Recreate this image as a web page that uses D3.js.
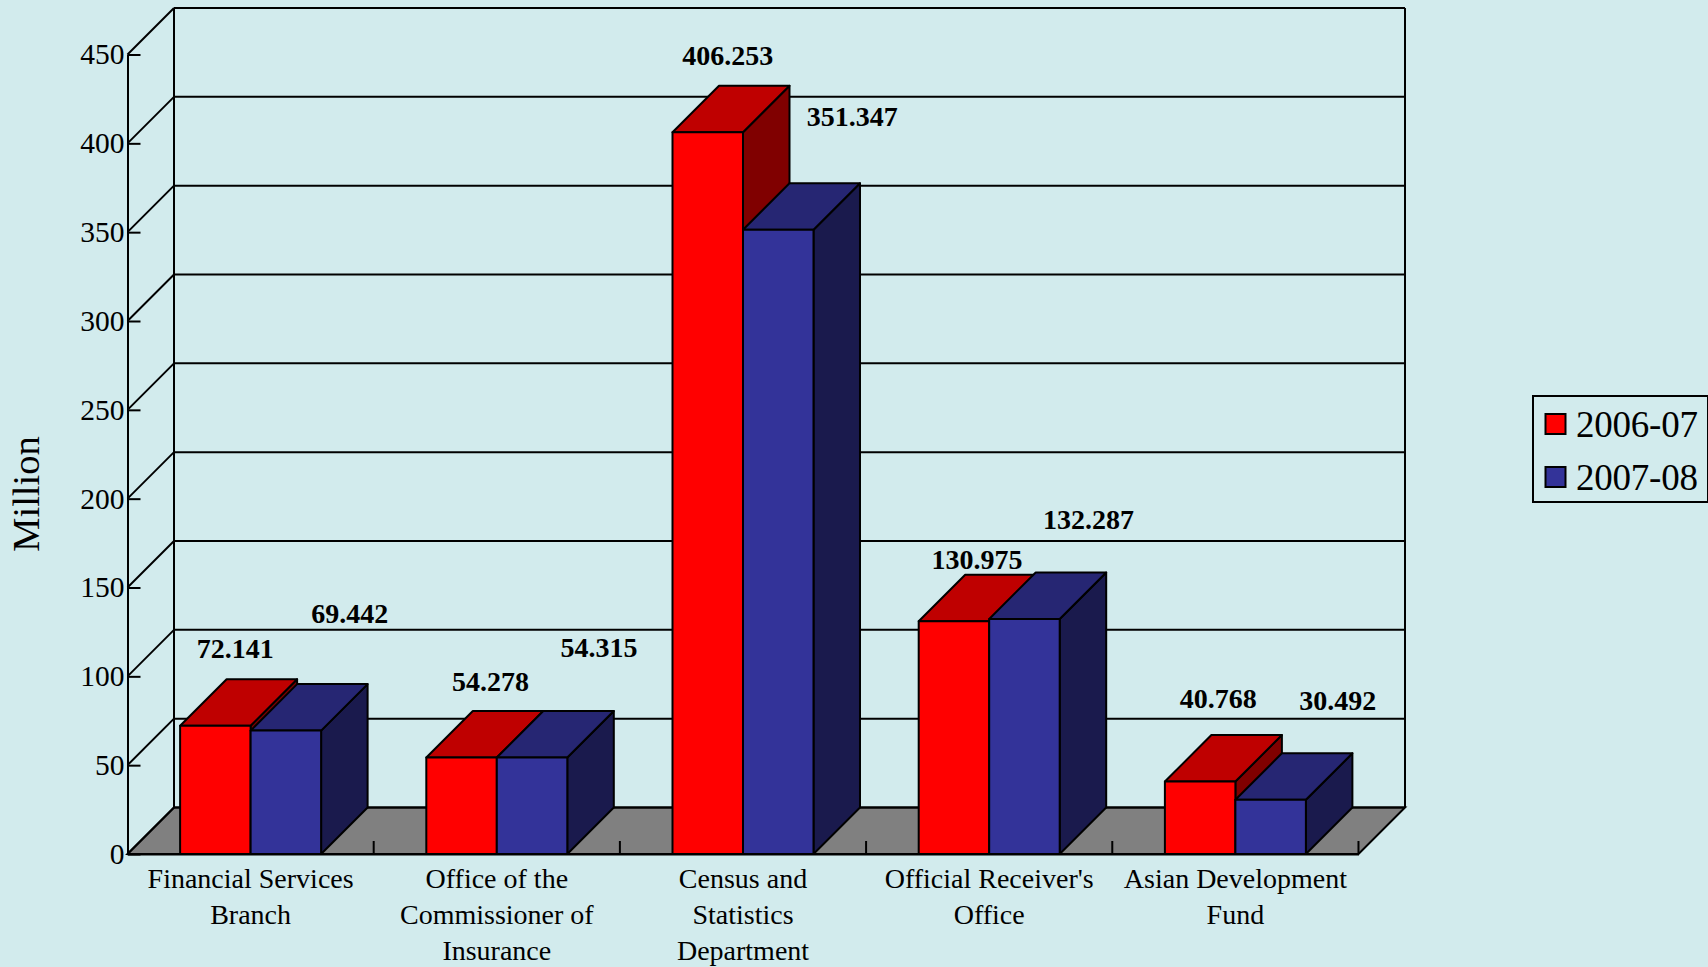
<!DOCTYPE html>
<html>
<head>
<meta charset="utf-8">
<script src="https://cdn.jsdelivr.net/npm/d3@7"></script>
<style>
  html, body { margin: 0; padding: 0; background: #d2ebed; overflow: hidden; }
  svg { display: block; font-family: "Liberation Serif", serif; }
  text { fill: #000; }
</style>
</head>
<body>
<div id="chart"></div>
<script>
var categories = [
  ["Financial Services", "Branch"],
  ["Office of the", "Commissioner of", "Insurance"],
  ["Census and", "Statistics", "Department"],
  ["Official Receiver's", "Office"],
  ["Asian Development", "Fund"]
];
var seriesNames = ["2006-07", "2007-08"];
var values2006 = [72.141, 54.278, 406.253, 130.975, 40.768];
var values2007 = [69.442, 54.315, 351.347, 132.287, 30.492];
var yTicks = [0, 50, 100, 150, 200, 250, 300, 350, 400, 450];

var width = 1708, height = 967;
var left = 127.5, right = 1358.5, bottom = 854, top_ = 54.5;
var depth = 46.5; // 3d offset of the back wall
var lineW = 2;

var front = ["#ff0000", "#333399"];
var topFace = ["#bf0000", "#262673"];
var sideFace = ["#800000", "#1a1a4d"];

// the data labels were placed by hand in the original, so each one has its own nudge
var labelNudge = [
  [[20, 68], [29, 66.5], [20, 67], [23, 52.5], [18, 74]],
  [[64, 108], [67, 101], [74, 104], [64, 90], [67, 90]]
];

var catIdx = d3.range(categories.length);

var yScale = d3.scaleLinear().domain([0, 450]).range([bottom, top_]);
var xScale = d3.scaleBand().domain(catIdx).range([left, right]).paddingInner(0.4273).paddingOuter(0.2137);
var xInner = d3.scaleBand().domain([0, 1]).range([0, xScale.bandwidth()]);

var svg = d3.select("#chart").append("svg")
  .attr("width", width)
  .attr("height", height);

svg.append("rect").attr("width", width).attr("height", height).attr("fill", "#d2ebed");

function pts(list) {
  return list.map(function(p) { return p.join(","); }).join(" ");
}

// floor
svg.append("polygon")
  .attr("points", pts([[left, bottom], [left + depth, bottom - depth], [right + depth, bottom - depth], [right, bottom]]))
  .attr("fill", "#808080")
  .attr("stroke", "#000")
  .attr("stroke-width", lineW);

// back wall grid, and the diagonals down to the front axis
var grid = svg.append("g").attr("stroke", "#000").attr("stroke-width", lineW).attr("fill", "none");
grid.selectAll(".back")
  .data(yTicks)
  .join("line")
  .attr("class", "back")
  .attr("x1", left + depth)
  .attr("x2", right + depth)
  .attr("y1", function(d) { return yScale(d) - depth; })
  .attr("y2", function(d) { return yScale(d) - depth; });
grid.selectAll(".diag")
  .data(yTicks)
  .join("line")
  .attr("class", "diag")
  .attr("x1", left)
  .attr("x2", left + depth)
  .attr("y1", function(d) { return yScale(d); })
  .attr("y2", function(d) { return yScale(d) - depth; });
grid.append("line")
  .attr("x1", left + depth).attr("x2", left + depth)
  .attr("y1", yScale(450) - depth).attr("y2", bottom - depth);
grid.append("line")
  .attr("x1", right + depth).attr("x2", right + depth)
  .attr("y1", yScale(450) - depth).attr("y2", bottom - depth);

// y axis
var yAxis = svg.append("g")
  .attr("transform", "translate(" + left + ",0)")
  .call(d3.axisLeft(yScale).tickValues(yTicks).tickSizeInner(-13).tickSizeOuter(0).tickPadding(3));
yAxis.selectAll("path, line").attr("stroke", "#000").attr("stroke-width", lineW);
yAxis.selectAll("text")
  .attr("font-family", "'Liberation Serif', serif")
  .attr("font-size", 29.5)
  .attr("dy", "0.32em");

// x axis, labels go under the band centres
var xAxis = svg.append("g")
  .attr("transform", "translate(0," + bottom + ")")
  .call(d3.axisBottom(xScale).tickSize(0).tickFormat(""));
xAxis.select("path").attr("stroke", "#000").attr("stroke-width", lineW);

xAxis.selectAll(".tick text")
  .attr("font-family", "'Liberation Serif', serif")
  .attr("font-size", 28)
  .attr("y", 34)
  .attr("dy", 0)
  .each(function(d) {
    var t = d3.select(this);
    t.text(null);
    categories[d].forEach(function(line, i) {
      t.append("tspan").attr("x", 0).attr("y", 34 + i * 36).text(line);
    });
  });

// small ticks between categories
svg.append("g").selectAll("line")
  .data(d3.range(1, categories.length + 1))
  .join("line")
  .attr("x1", function(d) { return left + d * xScale.step(); })
  .attr("x2", function(d) { return left + d * xScale.step(); })
  .attr("y1", bottom)
  .attr("y2", bottom - 13)
  .attr("stroke", "#000")
  .attr("stroke-width", lineW);

// bars
var allValues = [values2006, values2007];
catIdx.forEach(function(c) {
  allValues.forEach(function(vals, s) {
    var x0 = xScale(c) + xInner(s);
    var x1 = x0 + xInner.bandwidth();
    var yT = yScale(vals[c]);
    var g = svg.append("g").attr("stroke", "#000").attr("stroke-width", lineW).attr("stroke-linejoin", "round");
    g.append("polygon")
      .attr("points", pts([[x1, yT], [x1 + depth, yT - depth], [x1 + depth, bottom - depth], [x1, bottom]]))
      .attr("fill", sideFace[s]);
    g.append("polygon")
      .attr("points", pts([[x0, yT], [x0 + depth, yT - depth], [x1 + depth, yT - depth], [x1, yT]]))
      .attr("fill", topFace[s]);
    g.append("rect")
      .attr("x", x0).attr("y", yT)
      .attr("width", x1 - x0).attr("height", bottom - yT)
      .attr("fill", front[s]);
  });
});

// data labels
allValues.forEach(function(vals, s) {
  svg.append("g").selectAll("text")
    .data(vals)
    .join("text")
    .attr("x", function(d, i) { return xScale(i) + xInner(s) + xInner.bandwidth() / 2 + labelNudge[s][i][0]; })
    .attr("y", function(d, i) { return yScale(d) - labelNudge[s][i][1]; })
    .attr("text-anchor", "middle")
    .attr("font-size", 28)
    .attr("font-weight", "bold")
    .text(function(d) { return d3.format(".3f")(d); });
});

// y title
svg.append("text")
  .attr("transform", "translate(39,494) rotate(-90)")
  .attr("text-anchor", "middle")
  .attr("font-size", 38.5)
  .text("Million");

// legend
var legend = svg.append("g");
legend.append("rect")
  .attr("x", 1533).attr("y", 396)
  .attr("width", 175).attr("height", 106)
  .attr("fill", "none")
  .attr("stroke", "#000")
  .attr("stroke-width", lineW);
seriesNames.forEach(function(name, i) {
  legend.append("rect")
    .attr("x", 1545.5).attr("y", 414 + i * 53)
    .attr("width", 20).attr("height", 20)
    .attr("fill", front[i])
    .attr("stroke", "#000")
    .attr("stroke-width", lineW);
  legend.append("text")
    .attr("x", 1576).attr("y", 437 + i * 53)
    .attr("font-size", 37)
    .attr("textLength", 122)
    .text(name);
});
</script>
</body>
</html>
